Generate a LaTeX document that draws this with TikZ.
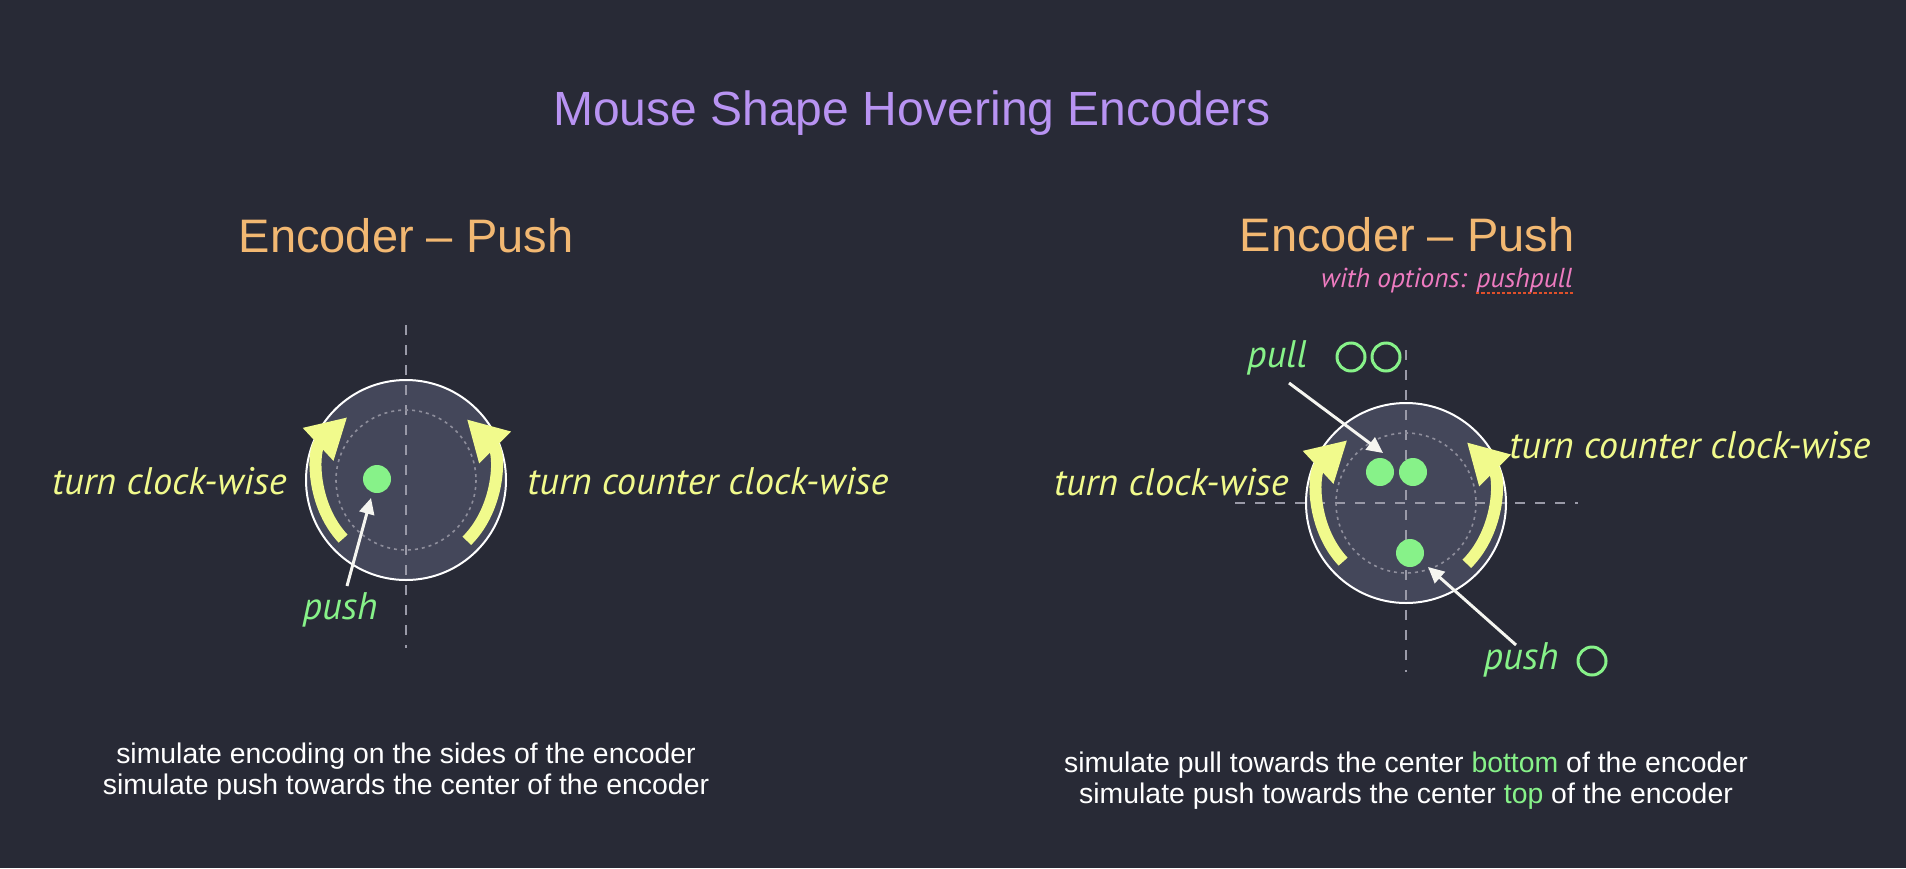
\documentclass[tikz,border=0pt]{standalone}
\usepackage{fontspec}
\setmainfont{Liberation Sans}
\newfontfamily\hand{PT Sans}
\usetikzlibrary{arrows.meta,calc}
\definecolor{bg}{HTML}{282A36}
\definecolor{disk}{HTML}{44475A}
\definecolor{ttl}{HTML}{B893F2}
\definecolor{orng}{HTML}{F2B872}
\definecolor{yel}{HTML}{F1FA8C}
\definecolor{grn}{HTML}{87F289}
\definecolor{pnk}{HTML}{EE7BC0}
\definecolor{guidec}{HTML}{9A9AA8}
\definecolor{innerc}{HTML}{8E8E9C}
\definecolor{squig}{HTML}{E0502A}
\definecolor{wht}{HTML}{F5F5F0}
\tikzset{
  diskst/.style={circle, fill=disk, draw=white, line width=1pt, minimum size=100pt, inner sep=0pt},
  dotst/.style={circle, fill=grn, minimum size=14pt, inner sep=0pt},
  ringst/.style={circle, draw=grn, line width=1.5pt, minimum size=14pt, inner sep=0pt},
  guideline/.style={draw=guidec, line width=1pt, dash pattern=on 5pt off 5pt},
  innerline/.style={draw=innerc, line width=0.8pt, dash pattern=on 1.5pt off 2pt},
  turnarr/.style={draw=yel, line width=6pt, -{Triangle[length=20pt,width=21pt]}},
  warr/.style={draw=wht, line width=1.5pt, -{Triangle[length=8pt,width=7.5pt]}},
  lab/.style={font=\hand\itshape\fontsize{19.2}{22}\selectfont, inner sep=0pt},
  optst/.style={font=\hand\itshape\fontsize{13.7}{16}\selectfont, text=pnk, inner sep=0pt},
  sub/.style={font=\fontsize{14.2}{17}\selectfont, text=white, inner sep=0pt},
  head/.style={font=\fontsize{23.5}{28}\selectfont, text=orng, inner sep=0pt},
}
\begin{document}
\begin{tikzpicture}[x=0.5pt,y=-0.5pt]
\useasboundingbox (0,0) rectangle (1906,868);
\fill[bg] (0,0) rectangle (1906,868);

% titles
\node[font=\fontsize{24}{28}\selectfont, text=ttl, anchor=base, inner sep=0pt] (title) at (912,125) {Mouse Shape Hovering Encoders};
\node[head, anchor=base] (hL) at (406,252) {Encoder – Push};
\node[head, anchor=base] (hR) at (1407,251) {Encoder – Push};
\node[optst, anchor=base east] (opt2) at (1573,287) {pushpull};
\node[optst, anchor=base east] (opt1) at ($(opt2.base west)+(-9,0)$) {with options:};
\draw[squig, line width=1.2pt, dash pattern=on 1.6pt off 1pt] ($(opt2.base west)+(0,6)$) -- ($(opt2.base east)+(0,6)$);

% encoders
\node[diskst] (eL) at (406,480) {};
\node[diskst] (eR) at (1406,503) {};

\draw[guideline] ($(eL)+(0,-155)$) -- ($(eL)+(0,168)$);
\draw[guideline] ($(eR)+(0,-153)$) -- ($(eR)+(0,169)$);
\draw[guideline] ($(eR)+(-171,0)$) -- ($(eR)+(172,0)$);

\draw[innerline] (eL) circle[radius=70];
\draw[innerline] (eR) circle[radius=70];

% turning arrows
\draw[turnarr] ($(eL)+(137:86)$) arc[start angle=137, end angle=227, radius=86];
\draw[turnarr] ($(eL)+(45:86)$) arc[start angle=45, end angle=-45, radius=86];
\draw[turnarr] ($(eR)+(137:86)$) arc[start angle=137, end angle=227, radius=86];
\draw[turnarr] ($(eR)+(45:86)$) arc[start angle=45, end angle=-45, radius=86];

% dots
\node[dotst] (pL) at (377,479) {};
\node[dotst] (pR1) at (1380,472) {};
\node[dotst] (pR2) at (1413,472) {};
\node[dotst] (pR3) at (1410,553) {};

% labels
\node[lab, text=yel, anchor=base east] (cwL) at (287,494) {turn clock-wise};
\node[lab, text=yel, anchor=base west] (ccwL) at (527,494) {turn counter clock-wise};
\node[lab, text=grn, anchor=base] (pushL) at (340,619) {push};
\node[lab, text=yel, anchor=base east] (cwR) at (1289,495) {turn clock-wise};
\node[lab, text=yel, anchor=base west] (ccwR) at (1509,458) {turn counter clock-wise};
\node[lab, text=grn, anchor=base] (pullR) at (1277,367) {pull};
\node[lab, text=grn, anchor=base] (pushR) at (1521,669) {push};
\node[ringst] (o1) at (1351,357) {};
\node[ringst] (o2) at (1386,357) {};
\node[ringst] (o3) at (1592,661) {};

% pointer arrows
\coordinate (pushLs) at ($(pushL.base)+(7,-33)$);
\coordinate (pushLt) at ($(pL)+(-6,19)$);
\draw[warr] (pushLs) -- (pushLt);
\coordinate (pullRs) at ($(pullR.base)+(12,16)$);
\coordinate (pullRt) at ($(pR1)+(3,-19)$);
\draw[warr] (pullRs) -- (pullRt);
\coordinate (pushRs) at ($(pushR.base)+(-5,-24)$);
\coordinate (pushRt) at ($(pR3)+(18,14)$);
\draw[warr] (pushRs) -- (pushRt);

% descriptions
\node[sub, anchor=base] (dL1) at (406,763) {simulate encoding on the sides of the encoder};
\node[sub, anchor=base] (dL2) at (406,794) {simulate push towards the center of the encoder};
\node[sub, anchor=base] (dR1) at (1406,772) {simulate pull towards the center \textcolor{grn}{bottom} of the encoder};
\node[sub, anchor=base] (dR2) at (1406,803) {simulate push towards the center \textcolor{grn}{top} of the encoder};
\end{tikzpicture}
\end{document}
